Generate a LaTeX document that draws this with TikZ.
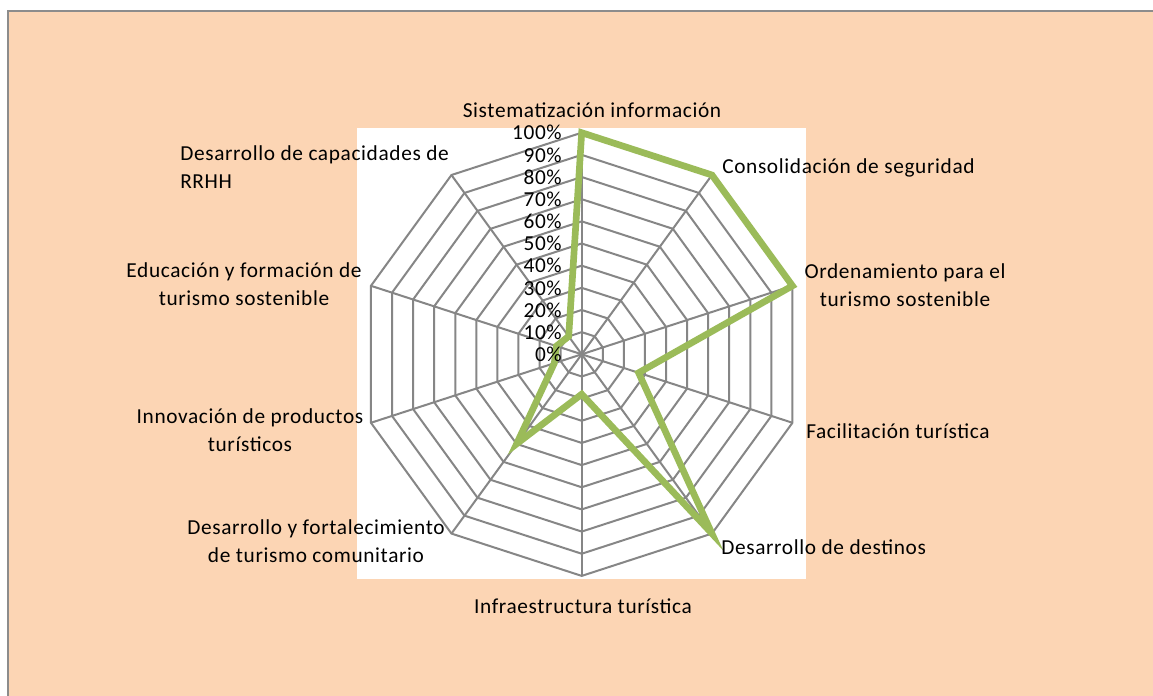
\documentclass[tikz,border=0pt]{standalone}
\usepackage{fontspec}
\setmainfont{Carlito}[LetterSpace=3.0]
\definecolor{chartbg}{HTML}{FCD5B4}
\definecolor{framegray}{HTML}{8C8C8C}
\definecolor{gridgray}{HTML}{868686}
\definecolor{seriesgreen}{HTML}{9BBB59}

\begin{document}
\begin{tikzpicture}[x=0.75pt,y=0.75pt,
  gridline/.style={draw=gridgray,line width=1.5pt},
  dataline/.style={draw=seriesgreen,line width=5pt},
  catlabel/.style={font=\fontsize{16}{21.4}\selectfont,align=center,inner sep=0pt},
  pctlabel/.style={font=\fontsize{16}{18}\selectfont,anchor=east,inner sep=0pt}]
\useasboundingbox (0,0) rectangle (1153,696);

% chart area and plot area
\fill[chartbg] (9,0) rectangle (1153,684);
\draw[framegray,line width=1.5pt] (8,0) -- (8,685) -- (1153,685);
\fill[white] (357,117) rectangle (806,568);

% radar grid
\begin{scope}[shift={(581.7,341.7)}]
\foreach \k in {1,...,10}
  \draw[gridline] (90:{22.16*\k}) \foreach \i in {1,...,9} { -- ({90-36*\i}:{22.16*\k}) } -- cycle;
\foreach \i in {0,...,9}
  \draw[gridline] (0,0) -- ({90-36*\i}:221.6);

% series
\draw[dataline] (90:221.6) \foreach \v [count=\i] in {100,100,27,100,18,50,13,12,10} { -- ({90-36*\i}:{2.216*\v}) } -- cycle;
\end{scope}

% axis values
\foreach \k [evaluate=\k as \pc using int(10*\k)] in {0,...,10}
  \node[pctlabel] (p\k) at (562,{341.7+22.16*\k}) {\pc\%};

% categories
\node[catlabel] (sis) at (592,586) {Sistematización información};
\node[catlabel,anchor=west] (con) at (722,528) {Consolidación de seguridad};
\node[catlabel] (ord) at (905,411) {Ordenamiento para el\\ turismo sostenible};
\node[catlabel,anchor=west] (fac) at (806,265) {Facilitación turística};
\node[catlabel,anchor=west] (des) at (721,149) {Desarrollo de destinos};
\node[catlabel] (inf) at (583,90) {Infraestructura turística};
\node[catlabel] (com) at (316,155) {Desarrollo y fortalecimiento\\ de turismo comunitario};
\node[catlabel] (inn) at (250,266) {Innovación de productos\\ turísticos};
\node[catlabel] (edu) at (244,412) {Educación y formación de\\ turismo sostenible};
\node[catlabel,anchor=west,align=left] (rrhh) at (180,529) {Desarrollo de capacidades de\\ RRHH};
\end{tikzpicture}
\end{document}
